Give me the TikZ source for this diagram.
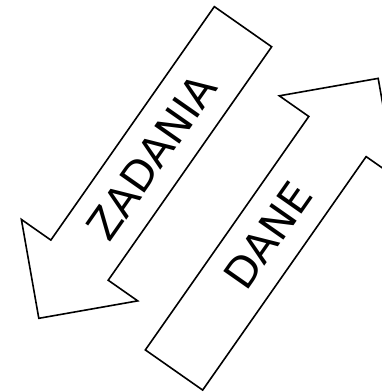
\documentclass[tikz,border=0pt]{standalone}
\usepackage{fontspec}
\setmainfont{DejaVu Sans}
\begin{document}
\begin{tikzpicture}[x=1pt,y=1pt,
  arrowline/.style={draw=black,line width=1.6pt,line join=miter,fill=white},
  lbl/.style={font=\fontsize{42}{44}\selectfont,inner sep=0pt,text=black}]
\useasboundingbox (0,0) rectangle (382,392);
% ZADANIA arrow (points down-left)
\begin{scope}[shift={(243,365.3)},rotate=235]
  \draw[arrowline] (0,-35) -- (285,-35) -- (285,-71) -- (356,0) -- (285,71) -- (285,35) -- (0,35) -- cycle;
  \coordinate (zc) at (159,0);
\end{scope}
% DANE arrow (points up-right)
\begin{scope}[shift={(174,22)},rotate=55]
  \draw[arrowline] (0,-35) -- (285,-35) -- (285,-71) -- (356,0) -- (285,71) -- (285,35) -- (0,35) -- cycle;
  \coordinate (dc) at (164,0);
\end{scope}
\node[lbl,rotate=55] (zadania) at (zc) {ZADANIA};
\node[lbl,rotate=55] (dane) at (dc) {DANE};
\end{tikzpicture}
\end{document}
